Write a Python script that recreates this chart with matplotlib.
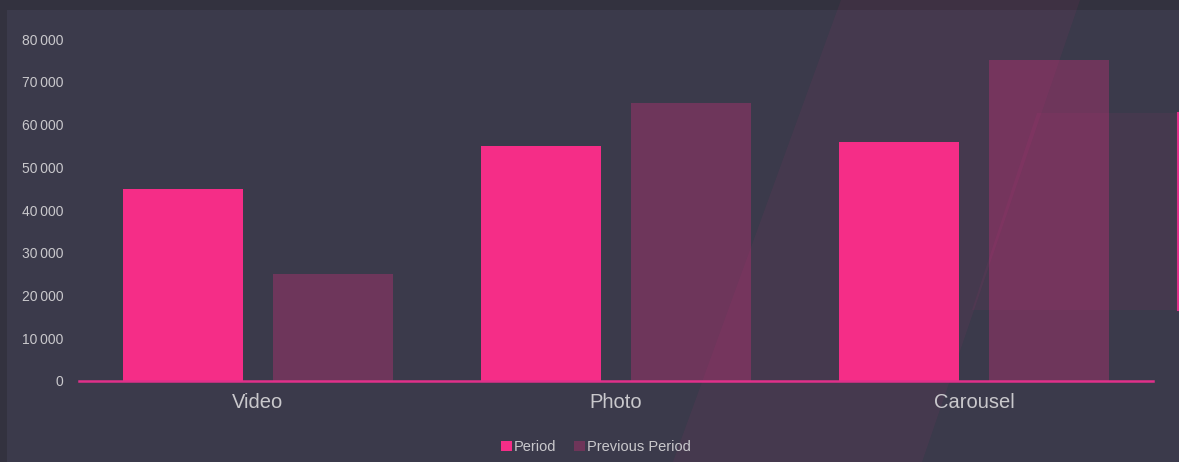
import matplotlib
matplotlib.use("Agg")
import matplotlib.pyplot as plt
from matplotlib.patches import Polygon, Rectangle, Patch
from matplotlib.lines import Line2D
from matplotlib.ticker import FuncFormatter
import numpy as np

categories = ["Video", "Photo", "Carousel"]
period = [45000, 55000, 56000]
previous_period = [25000, 65000, 75000]
series_names = ["Period", "Previous Period"]
yticks = [0, 10000, 20000, 30000, 40000, 50000, 60000, 70000, 80000]

PINK = "#f52d87"
OUTER = "#33323f"
PANEL = "#3b3a4b"
TXT = "#c9c8cc"

W, H = 1179, 462
fig = plt.figure(figsize=(W / 100, H / 100), dpi=100, facecolor=OUTER)

def fx(x):
    return x / W

def fy(y):
    return 1 - y / H

# panel
fig.patches.append(Rectangle((fx(7), 0), 1 - fx(7), fy(10), transform=fig.transFigure,
                             facecolor=PANEL, edgecolor="none", zorder=0))
# decorative band
band = [(841, 0), (1080, 0), (922, 462), (673, 462)]
fig.patches.append(Polygon([(fx(x), fy(y)) for x, y in band], closed=True,
                           transform=fig.transFigure, facecolor=PINK, alpha=0.06,
                           edgecolor="none", zorder=0.5))
shape = [(1037, 113), (1179, 113), (1179, 310), (972, 310)]
fig.patches.append(Polygon([(fx(x), fy(y)) for x, y in shape], closed=True,
                           transform=fig.transFigure, facecolor=PINK, alpha=0.06,
                           edgecolor="none", zorder=0.5))
fig.lines.append(Line2D([fx(1177.5), fx(1177.5)], [fy(113), fy(310)], transform=fig.transFigure,
                        color="#e0308a", lw=1.5, zorder=0.6))

ax = fig.add_axes([fx(79), fy(381), fx(1153) - fx(79), (381 - 22) / H])
ax.set_facecolor("none")
ax.set_zorder(2)

x = np.arange(len(categories))
off = 0.2084
w = 0.3357
ax.bar(x - off, period, width=w, color=PINK, zorder=2)
ax.bar(x + off, previous_period, width=w, color=PINK, alpha=0.28, zorder=2)

ax.set_xlim(-0.5, len(categories) - 0.5)
ax.set_ylim(0, 84000)
ax.set_yticks(yticks)
ax.yaxis.set_major_formatter(FuncFormatter(lambda v, p: f"{int(v):,}".replace(",", "\u2009")))
ax.set_xticks(x)
ax.set_xticklabels(categories)

for s in ["top", "right", "left"]:
    ax.spines[s].set_visible(False)
ax.spines["bottom"].set_color("#e0308a")
ax.spines["bottom"].set_linewidth(1.8)
ax.spines["bottom"].set_zorder(3)

ax.tick_params(axis="y", length=0, pad=11, labelsize=10, labelcolor=TXT)
ax.tick_params(axis="x", length=0, pad=8.5, labelsize=14.5, labelcolor=TXT)
for lab in ax.get_yticklabels() + ax.get_xticklabels():
    lab.set_fontfamily("Liberation Sans")

handles = [Patch(facecolor=PINK, edgecolor="none"),
           Patch(facecolor="#6e3559", edgecolor="none")]
leg = fig.legend(handles, series_names, loc="center", bbox_to_anchor=(fx(596), fy(447)),
                 ncol=2, frameon=False, handlelength=0.75, handleheight=0.75,
                 handletextpad=0.15, columnspacing=1.2,
                 prop={"family": "Liberation Sans", "size": 10.5})
for t in leg.get_texts():
    t.set_color(TXT)

fig.savefig("out.png", dpi=100, facecolor=OUTER)
